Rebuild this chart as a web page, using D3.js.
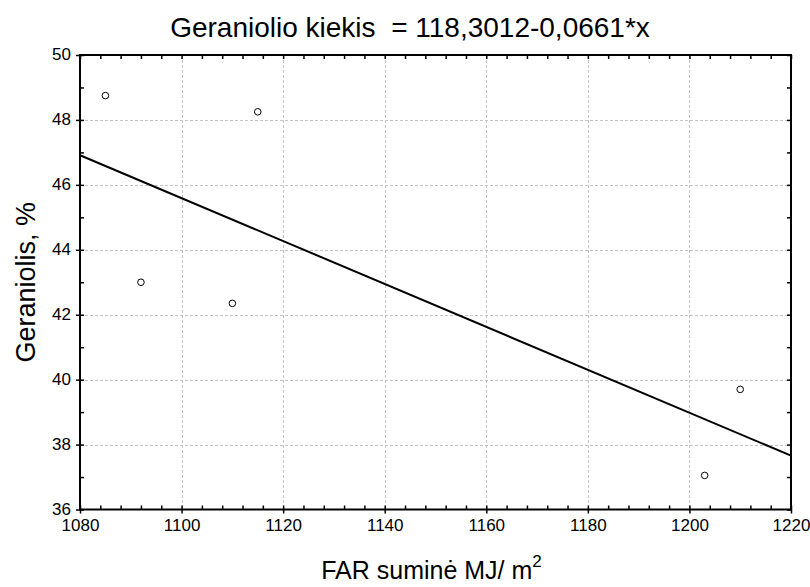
<!DOCTYPE html>
<html>

<head>
  <title>Geraniolio kiekis</title>
  <style>
    body { margin: 0; background: #fff; }
    text { font-family: Arial, "Liberation Sans", sans-serif; fill: #000; }
  </style>
</head>

<body>
  <svg id="svg1"></svg>

  <script src="https://d3js.org/d3.v7.min.js"></script>
  <script>
    // data
    let farValues = [1085, 1092, 1110, 1115, 1203, 1210];
    let geraniolValues = [48.75, 43.0, 42.35, 48.25, 37.05, 39.7];
    let intercept = 118.3012, slope = -0.0661;
    let xTicks = [1080, 1100, 1120, 1140, 1160, 1180, 1200, 1220];
    let yTicks = [36, 38, 40, 42, 44, 46, 48, 50];

    let data = farValues.map((x, i) => ({ x: x, y: geraniolValues[i] }));

    let width = 810, height = 587;
    let margin = { top: 55, right: 19, bottom: 77.5, left: 80 };

    let svg = d3.select("#svg1").attr("width", width).attr("height", height);

    let xScale = d3.scaleLinear().domain([1080, 1220]).range([margin.left, width - margin.right]);
    let yScale = d3.scaleLinear().domain([36, 50]).range([height - margin.bottom, margin.top]);

    let x0 = xScale.range()[0], x1 = xScale.range()[1];
    let y0 = yScale.range()[0], y1 = yScale.range()[1];

    // grid
    let grid = svg.append("g")
      .attr("stroke", "#c4c4c4")
      .attr("stroke-width", 1)
      .attr("stroke-dasharray", "3,2");
    grid.selectAll("line.vx")
      .data(xTicks.slice(1, -1))
      .join("line")
      .attr("x1", d => Math.round(xScale(d)) + 0.5)
      .attr("x2", d => Math.round(xScale(d)) + 0.5)
      .attr("y1", y1).attr("y2", y0);
    grid.selectAll("line.hy")
      .data(yTicks.slice(1, -1))
      .join("line")
      .attr("class", "hy")
      .attr("y1", d => Math.round(yScale(d)) + 0.5)
      .attr("y2", d => Math.round(yScale(d)) + 0.5)
      .attr("x1", x0).attr("x2", x1);

    // axes: major ticks outside, minor ticks inside, on all four sides
    let xMinor = d3.range(1080, 1220.1, 4);
    let yMinor = d3.range(36, 50.1, 1);

    svg.append("g")
      .attr("transform", `translate(0, ${y0})`)
      .call(d3.axisBottom(xScale).tickValues(xTicks).tickSize(4).tickPadding(5).tickFormat(d3.format("d")))
      .call(g => g.select(".domain").remove())
      .call(g => g.selectAll("text").attr("font-size", 17));

    svg.append("g")
      .attr("transform", `translate(${x0}, 0)`)
      .call(d3.axisLeft(yScale).tickValues(yTicks).tickSize(4).tickPadding(5).tickFormat(d3.format("d")))
      .call(g => g.select(".domain").remove())
      .call(g => g.selectAll("text").attr("font-size", 17).attr("dy", "0.28em"));

    svg.append("g")
      .attr("transform", `translate(0, ${y0})`)
      .call(d3.axisTop(xScale).tickValues(xMinor).tickSize(4).tickFormat(""))
      .call(g => g.select(".domain").remove());
    svg.append("g")
      .attr("transform", `translate(0, ${y1})`)
      .call(d3.axisBottom(xScale).tickValues(xMinor).tickSize(4).tickFormat(""))
      .call(g => g.select(".domain").remove());
    svg.append("g")
      .attr("transform", `translate(${x0}, 0)`)
      .call(d3.axisRight(yScale).tickValues(yMinor).tickSize(4).tickFormat(""))
      .call(g => g.select(".domain").remove());
    svg.append("g")
      .attr("transform", `translate(${x1}, 0)`)
      .call(d3.axisLeft(yScale).tickValues(yMinor).tickSize(4).tickFormat(""))
      .call(g => g.select(".domain").remove());

    svg.selectAll(".tick line").attr("stroke", "#000").attr("stroke-width", 1.5);

    // frame
    svg.append("rect")
      .attr("x", x0).attr("y", y1)
      .attr("width", x1 - x0).attr("height", y0 - y1)
      .attr("fill", "none")
      .attr("stroke", "#000")
      .attr("stroke-width", 2);

    // regression line
    let lineData = [1080, 1220].map(x => ({ x: x, y: intercept + slope * x }));
    svg.append("path")
      .datum(lineData)
      .attr("fill", "none")
      .attr("stroke", "#000")
      .attr("stroke-width", 2)
      .attr("d", d3.line().x(d => xScale(d.x)).y(d => yScale(d.y)));

    // points
    svg.append("g")
      .selectAll("circle")
      .data(data)
      .join("circle")
      .attr("cx", d => xScale(d.x))
      .attr("cy", d => yScale(d.y))
      .attr("r", 3.3)
      .attr("fill", "#fff")
      .attr("stroke", "#000")
      .attr("stroke-width", 1);

    // title and labels
    svg.append("text")
      .attr("x", 410)
      .attr("y", 37)
      .attr("text-anchor", "middle")
      .attr("font-size", 28)
      .style("white-space", "pre")
      .text("Geraniolio kiekis  = 118,3012-0,0661*x");

    let xl = svg.append("text")
      .attr("x", (x0 + x1) / 2 - 4)
      .attr("y", 579)
      .attr("text-anchor", "middle")
      .attr("font-size", 25);
    xl.append("tspan").text("FAR suminė MJ/ m");
    xl.append("tspan").attr("font-size", 17).attr("dy", -12).text("2");

    svg.append("text")
      .attr("transform", `translate(35, ${(y0 + y1) / 2}) rotate(-90)`)
      .attr("text-anchor", "middle")
      .attr("font-size", 27)
      .text("Geraniolis, %");
  </script>
</body>

</html>
